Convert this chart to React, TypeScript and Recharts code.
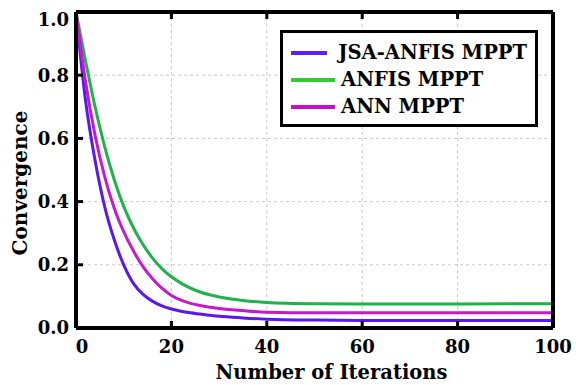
import { LineChart, Line, XAxis, YAxis, CartesianGrid } from 'recharts';

// iteration index and convergence values
const iterations = [0, 2, 4, 6, 8, 10, 12, 14, 16, 18, 20, 22, 24, 26, 28, 30, 35, 40, 50, 60, 80, 100];
const jsaAnfis = [1.0, 0.72, 0.53, 0.385, 0.28, 0.2, 0.142, 0.107, 0.085, 0.07, 0.06, 0.053, 0.048, 0.044, 0.04, 0.037, 0.032, 0.028, 0.025, 0.024, 0.024, 0.024];
const anfis = [1.0, 0.845, 0.7, 0.575, 0.47, 0.385, 0.318, 0.265, 0.222, 0.188, 0.162, 0.142, 0.126, 0.114, 0.105, 0.098, 0.087, 0.081, 0.077, 0.076, 0.076, 0.077];
const ann = [1.0, 0.78, 0.61, 0.48, 0.38, 0.305, 0.245, 0.195, 0.157, 0.126, 0.103, 0.088, 0.078, 0.071, 0.066, 0.062, 0.055, 0.05, 0.048, 0.048, 0.048, 0.048];

const xTicks = [0, 20, 40, 60, 80, 100];
const yTicks = [0, 0.2, 0.4, 0.6, 0.8, 1.0];

const series = [
    { key: 'jsa', name: 'JSA-ANFIS MPPT', color: '#5b17f2', legendColor: '#5a1eff', indent: 5 },
    { key: 'anfis', name: 'ANFIS MPPT', color: '#1fb14c', legendColor: '#33cc33', indent: 0 },
    { key: 'ann', name: 'ANN MPPT', color: '#c518cf', legendColor: '#c80fc8', indent: 0 },
];

const data = iterations.map((it, i) => ({ it, jsa: jsaAnfis[i], anfis: anfis[i], ann: ann[i] }));

const font = '"DejaVu Serif", serif';
const TICK_LEN = 7;
const TS = 1; // tickSize handed to recharts (0 is ignored)
const GAP = 10; // tickMargin

function LegendBox() {
    return (
        <div style={{ position: 'absolute', left: 280, top: 30, width: 258, height: 97, boxSizing: 'border-box', border: '3px solid #000', background: '#fff', padding: '6px 8px 4px 8px', fontFamily: font, fontWeight: 'bold', fontSize: 19.5 }}>
            {series.map((s) => (
                <div key={s.key} style={{ display: 'flex', alignItems: 'center', height: 27 }}>
                    <span style={{ display: 'inline-block', width: 44, height: 4, background: s.legendColor, marginRight: 6 + s.indent }} />
                    <span style={{ color: '#000', whiteSpace: 'nowrap' }}>{s.name}</span>
                </div>
            ))}
        </div>
    );
}

const line = { stroke: '#000', strokeWidth: 3 };
const txt = { fontFamily: font, fontWeight: 'bold' as const, fontSize: 18, fill: '#000' };

// custom ticks: inward tick mark (+ label on bottom / left)
function BottomTick(props: any) {
    const { x, y, payload } = props;
    const ay = y - TS - GAP;
    return (
        <g>
            <line x1={x} x2={x} y1={ay} y2={ay - TICK_LEN} {...line} />
            <text x={x + (payload.value === 0 ? 6 : 0)} y={ay + 12} dy="0.71em" textAnchor="middle" {...txt}>{payload.value}</text>
        </g>
    );
}

function LeftTick(props: any) {
    const { x, y, payload } = props;
    const ax = x + TS + GAP;
    return (
        <g>
            <line x1={ax} x2={ax + TICK_LEN} y1={y} y2={y} {...line} />
            <text x={ax - 7} y={y + (payload.value === 1 ? 8 : 0)} dy="0.355em" textAnchor="end" {...txt}>{Number(payload.value).toFixed(1)}</text>
        </g>
    );
}

function TopTick(props: any) {
    const { x, y } = props;
    const ay = y + TS;
    return <line x1={x} x2={x} y1={ay} y2={ay + TICK_LEN} {...line} />;
}

function RightTick(props: any) {
    const { x, y } = props;
    const ax = x - TS;
    return <line x1={ax} x2={ax - TICK_LEN} y1={y} y2={y} {...line} />;
}

function XTitle(props: any) {
    const { viewBox } = props;
    return (
        <text x={viewBox.x + viewBox.width / 2 + 17} y={viewBox.y + 44} dominantBaseline="central" textAnchor="middle"
            fontFamily={font} fontWeight="bold" fontSize={19.5} fill="#000">Number of Iterations</text>
    );
}

function YTitle(props: any) {
    const { viewBox } = props;
    const cx = viewBox.x + 20;
    const cy = viewBox.y + viewBox.height / 2 + 13;
    return (
        <text x={cx} y={cy} transform={`rotate(-90 ${cx} ${cy})`} dominantBaseline="central" textAnchor="middle"
            fontFamily={font} fontWeight="bold" fontSize={20} fill="#000">Convergence</text>
    );
}

export default function App() {
    const axisLine = { stroke: '#000', strokeWidth: 4 };
    return (
        <div style={{ position: 'absolute', left: 0, top: 0, width: 576, height: 385, background: '#fff' }}>
            <LineChart width={576} height={385} data={data} margin={{ top: 11, right: 22, left: 0, bottom: 0 }}>
                <CartesianGrid stroke="#c8c8c8" strokeDasharray="3 3" />
                <XAxis dataKey="it" type="number" domain={[0, 100]} ticks={xTicks} interval={0} height={57}
                    axisLine={axisLine} tickLine={false} tickSize={TS} tickMargin={GAP}
                    tick={<BottomTick />} label={<XTitle />} />
                <XAxis xAxisId="top" dataKey="it" type="number" domain={[0, 100]} ticks={xTicks} interval={0} orientation="top" height={1}
                    axisLine={axisLine} tickLine={false} tickSize={TS} tickMargin={0} tick={<TopTick />} />
                <YAxis type="number" domain={[0, 1]} ticks={yTicks} interval={0} width={76}
                    axisLine={axisLine} tickLine={false} tickSize={TS} tickMargin={GAP}
                    tick={<LeftTick />} label={<YTitle />} />
                <YAxis yAxisId="right" type="number" domain={[0, 1]} ticks={yTicks} interval={0} orientation="right" width={1}
                    axisLine={axisLine} tickLine={false} tickSize={TS} tickMargin={0} tick={<RightTick />} />
                {series.map((s) => (
                    <Line key={s.key} dataKey={s.key} name={s.name} type="monotone" stroke={s.color} strokeWidth={3}
                        dot={false} isAnimationActive={false} />
                ))}
            </LineChart>
            <LegendBox />
        </div>
    );
}
